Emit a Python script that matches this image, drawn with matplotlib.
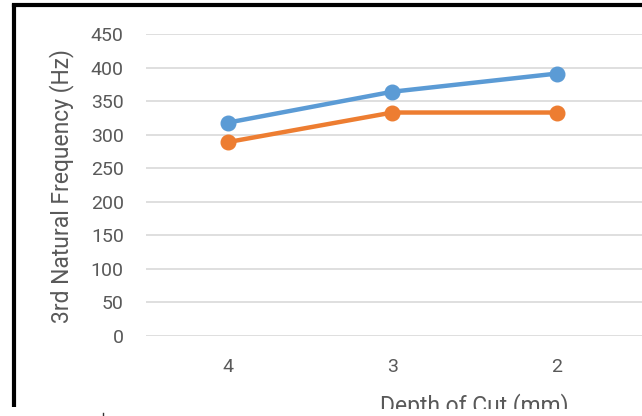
import matplotlib.pyplot as plt
from matplotlib.patches import Rectangle
from matplotlib.lines import Line2D

plt.rcParams['font.family'] = ['Roboto', 'DejaVu Sans']

# depth of cut categories and 3rd natural frequency for two cases
depths = ["4", "3", "2"]
freq_a = [318, 364, 391]
freq_b = [289, 333, 333]
yticks = [0, 50, 100, 150, 200, 250, 300, 350, 400, 450]

grey = "#595959"
W, H = 642, 416

fig = plt.figure(figsize=(6.42, 4.16), dpi=100)
ax = fig.add_axes([146 / W, 1 - 336 / H, 1 - 146 / W, (336 - 34) / H])

x = range(len(depths))
ax.plot(x, freq_a, color="#5B9BD5", lw=3.2, marker="o", ms=10.5, solid_capstyle="round")
ax.plot(x, freq_b, color="#ED7D31", lw=3.2, marker="o", ms=10.5, solid_capstyle="round")

ax.set_xlim(-0.5, 2.52)
ax.set_ylim(0, 450)
ax.set_xticks(list(x))
ax.set_xticklabels(depths)
ax.set_yticks(yticks)
ax.yaxis.grid(True, color="#D9D9D9", lw=1.2)
ax.set_axisbelow(True)
for s in ax.spines.values():
    s.set_visible(False)
ax.tick_params(length=0, labelsize=14, labelcolor=grey)
ax.tick_params(axis="y", pad=16)
ax.tick_params(axis="x", pad=16)

fig.text(62 / W, 1 - 186 / H, "3rd Natural Frequency (Hz)", fontsize=16.5, color=grey,
         rotation=90, ha="center", va="center")
fig.text(474 / W, 1 - 412 / H, "Depth of Cut (mm)", fontsize=16.5, color=grey,
         ha="center", va="baseline")

# chart area is cut off at the bottom
fig.patches.append(Rectangle((0, 0), 1, 1 - 409 / H, transform=fig.transFigure,
                             fc="white", ec="none", zorder=5))

# outer frame: top and left edges only
fig.add_artist(Line2D([14 / W, 1.0], [1 - 5 / H, 1 - 5 / H], color="black", lw=3, zorder=6))
fig.add_artist(Line2D([14 / W, 14 / W], [1 - 407 / H, 1 - 3.5 / H], color="black", lw=3,
                      solid_capstyle="butt", zorder=6))
fig.add_artist(Line2D([103 / W, 103 / W], [0, 1 - 413 / H], color="#333333", lw=1, zorder=6))

fig.savefig("out.png", dpi=100)
